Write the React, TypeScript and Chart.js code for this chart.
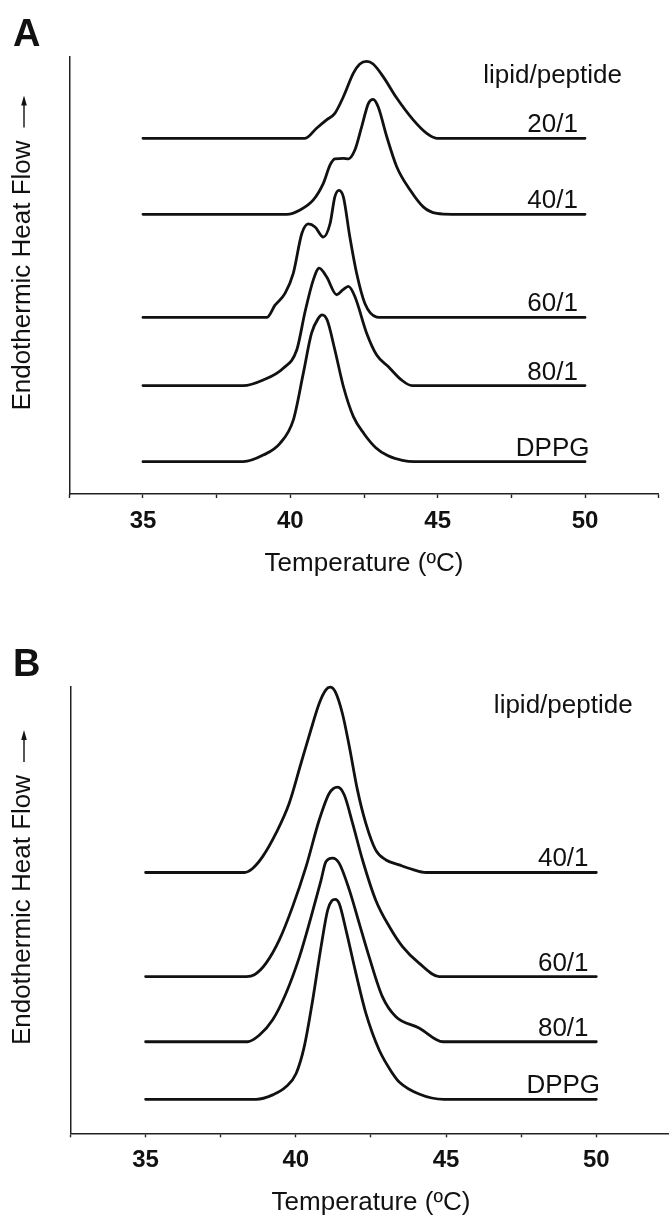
import React, { useEffect, useRef } from 'react';
import { Chart, registerables } from 'chart.js';

Chart.register(...registerables);

const FONT = '"Liberation Sans", Arial, Helvetica, sans-serif';
const INK = '#111111';

// ---------- Panel A (temperature °C / endothermic heat flow, arbitrary units) ----------
const tempA20 = [35, 40.5, 40.89, 41.23, 41.51, 41.8, 42.14, 42.36, 42.59, 42.81, 43.15, 43.61, 44.17, 44.63, 44.97, 50];
const flowA20 = [81.4, 81.4, 83.7, 85.6, 87.1, 90.9, 96.3, 98.4, 99.0, 98.4, 95.5, 90.6, 85.6, 82.5, 81.4, 81.4];

const tempA40 = [35, 39.88, 40.33, 40.78, 41.12, 41.35, 41.51, 41.8, 41.97, 42.19, 42.42, 42.65, 42.81, 42.98, 43.27, 43.61, 44.06, 44.51, 44.97, 45.5, 50];
const flowA40 = [64, 64, 65.0, 67.3, 71.1, 75.3, 76.7, 76.8, 76.7, 78.7, 84.0, 89.4, 90.3, 88.6, 81.8, 74.9, 69.6, 65.7, 64.2, 64, 64];

const tempA60 = [35, 39.2, 39.48, 39.82, 40.1, 40.39, 40.61, 40.84, 41.12, 41.35, 41.51, 41.65, 41.8, 42.02, 42.25, 42.53, 42.93, 43.15, 50];
const flowA60 = [40.4, 40.4, 43.2, 45.9, 50.5, 59.6, 61.8, 61.1, 58.8, 61.9, 68.0, 69.5, 68.0, 58.8, 50.5, 43.6, 40.5, 40.4, 40.4];

const tempA80 = [35, 38.4, 39.08, 39.76, 40.22, 40.5, 40.78, 40.98, 41.23, 41.57, 41.78, 41.97, 42.19, 42.59, 42.93, 43.33, 43.77, 44.13, 50];
const flowA80 = [24.8, 24.8, 26.1, 28.8, 33.0, 41.7, 49.0, 51.7, 49.7, 45.6, 46.7, 47.5, 45.2, 36.8, 31.8, 29.1, 26.1, 24.8, 24.8];

const tempADPPG = [35, 38.4, 39.08, 39.65, 40.1, 40.44, 40.72, 40.95, 41.08, 41.25, 41.51, 41.8, 42.14, 42.5, 42.9, 43.3, 43.8, 44.2, 50];
const flowADPPG = [7.4, 7.4, 8.9, 11.6, 16.9, 27.6, 36.8, 40.2, 41.0, 39.8, 33.0, 24.6, 17.7, 13.8, 10.6, 8.8, 7.7, 7.4, 7.4];

const seriesLabelsA = ['20/1', '40/1', '60/1', '80/1', 'DPPG'];
const baselinesA = [81.4, 64.0, 40.4, 24.8, 7.4];

// ---------- Panel B ----------
const tempB40 = [35, 38.29, 38.56, 38.9, 39.34, 39.78, 40.17, 40.5, 40.78, 41.0, 41.14, 41.31, 41.55, 41.78, 42.05, 42.33, 42.66, 43.0, 43.44, 43.88, 44.33, 50];
const flowB40 = [58.4, 58.4, 59.3, 62.0, 67.2, 73.9, 82.8, 90.3, 96.3, 99.3, 99.9, 98.9, 94.0, 86.6, 76.9, 69.4, 63.4, 61.2, 60.1, 59.1, 58.4, 58.4];

const tempB60 = [35, 38.35, 38.62, 39.01, 39.45, 39.89, 40.34, 40.78, 41.11, 41.39, 41.61, 41.89, 42.22, 42.66, 43.11, 43.55, 44.1, 44.77, 50];
const flowB60 = [35.1, 35.1, 35.5, 38.1, 43.3, 50.7, 59.7, 70.2, 76.1, 77.5, 75.8, 69.4, 61.2, 52.2, 46.3, 41.8, 38.1, 35.1, 35.1];

const tempB80 = [35, 38.4, 38.79, 39.23, 39.67, 40.12, 40.51, 40.84, 41.0, 41.22, 41.44, 41.78, 42.11, 42.44, 42.88, 43.33, 44.1, 44.9, 50];
const flowB80 = [20.5, 20.5, 22.0, 25.4, 31.3, 39.5, 48.5, 56.7, 60.8, 61.6, 60.5, 54.5, 47.0, 39.5, 30.6, 26.1, 23.6, 20.5, 20.5];

const tempBDPPG = [35, 38.68, 39.23, 39.67, 40.01, 40.28, 40.56, 40.84, 41.06, 41.2, 41.31, 41.44, 41.67, 42.0, 42.33, 42.77, 43.22, 43.44, 44.1, 44.93, 50];
const flowBDPPG = [7.6, 7.6, 8.6, 10.4, 13.4, 19.4, 29.8, 41.8, 50.0, 52.1, 52.4, 51.5, 45.5, 35.8, 26.9, 18.7, 13.4, 11.5, 8.8, 7.6, 7.6];

const seriesLabelsB = ['40/1', '60/1', '80/1', 'DPPG'];
const baselinesB = [58.4, 35.1, 20.5, 7.6];

// ---------- shared axis / text ----------
const xMin = 32.5;
const xMax = 52.5;
const xStep = 2.5;
const labeledTicks = [35, 40, 45, 50];
const headerText = 'lipid/peptide';
const headerLevel = 94;
const labelTemp = 48.9;
const xTitle = 'Temperature (ºC)';
const yTitle = 'Endothermic Heat Flow';

type PanelSpec = {
  letter: string;
  top: number;
  width: number;
  height: number;
  areaLeft: number;
  areaRight: number;
  areaTop: number;
  areaBottom: number;
  letterBaseline: number;
  temps: number[][];
  flows: number[][];
  labels: string[];
  baselines: number[];
};

const panelA: PanelSpec = {
  letter: 'A',
  top: 0,
  width: 669,
  height: 584,
  areaLeft: 69.3,
  areaRight: 658.7,
  areaTop: 57,
  areaBottom: 494,
  letterBaseline: 46,
  temps: [tempA20, tempA40, tempA60, tempA80, tempADPPG],
  flows: [flowA20, flowA40, flowA60, flowA80, flowADPPG],
  labels: seriesLabelsA,
  baselines: baselinesA,
};

const panelB: PanelSpec = {
  letter: 'B',
  top: 584,
  width: 680,
  height: 639,
  areaLeft: 70.5,
  areaRight: 672.5,
  areaTop: 102.7,
  areaBottom: 549.3,
  letterBaseline: 92,
  temps: [tempB40, tempB60, tempB80, tempBDPPG],
  flows: [flowB40, flowB60, flowB80, flowBDPPG],
  labels: seriesLabelsB,
  baselines: baselinesB,
};

function annotationPlugin(spec: PanelSpec) {
  return {
    id: 'annot' + spec.letter,
    afterDraw(chart: any) {
      const { ctx, scales, chartArea } = chart;
      const x = scales.x;
      const y = scales.y;
      ctx.save();
      ctx.fillStyle = INK;
      ctx.strokeStyle = INK;

      // panel letter
      ctx.font = `bold 38px ${FONT}`;
      ctx.textAlign = 'left';
      ctx.textBaseline = 'alphabetic';
      ctx.fillText(spec.letter, 13, spec.letterBaseline);

      // series labels
      ctx.font = `26px ${FONT}`;
      ctx.textAlign = 'center';
      const lx = x.getPixelForValue(labelTemp);
      ctx.fillText(headerText, lx, y.getPixelForValue(headerLevel));
      spec.labels.forEach((t, i) => {
        ctx.fillText(t, lx, y.getPixelForValue(spec.baselines[i]) - 6);
      });

      // arrow beside the y title
      const w = ctx.measureText(yTitle).width;
      const cy = (chartArea.top + chartArea.bottom) / 2;
      const ax = 24;
      const yStart = cy - w / 2 - 13;
      const yTip = yStart - 32;
      ctx.lineWidth = 1.4;
      ctx.beginPath();
      ctx.moveTo(ax, yStart);
      ctx.lineTo(ax, yTip + 8);
      ctx.stroke();
      ctx.beginPath();
      ctx.moveTo(ax, yTip);
      ctx.lineTo(ax - 2.8, yTip + 10);
      ctx.lineTo(ax + 2.8, yTip + 10);
      ctx.closePath();
      ctx.fill();
      ctx.restore();
    },
  };
}

function buildConfig(spec: PanelSpec): any {
  const datasets = spec.temps.map((temps, i) => ({
    label: spec.labels[i],
    data: temps.map((t, j) => ({ x: t, y: spec.flows[i][j] })),
    borderColor: INK,
    borderWidth: 2.8,
    pointRadius: 0,
    fill: false,
    cubicInterpolationMode: 'monotone',
    borderJoinStyle: 'round',
    borderCapStyle: 'round',
    clip: false,
  }));
  return {
    type: 'line',
    data: { datasets },
    options: {
      animation: false,
      responsive: false,
      maintainAspectRatio: false,
      devicePixelRatio: 1,
      layout: {
        padding: {
          left: 0,
          right: spec.width - spec.areaRight,
          top: spec.areaTop,
          bottom: 0,
        },
      },
      plugins: {
        legend: { display: false },
        tooltip: { enabled: false },
        title: { display: false },
      },
      scales: {
        x: {
          type: 'linear',
          min: xMin,
          max: xMax,
          afterFit: (s: any) => {
            s.height = spec.height - spec.areaBottom;
          },
          ticks: {
            stepSize: xStep,
            autoSkip: false,
            maxRotation: 0,
            minRotation: 0,
            padding: 8.6,
            color: INK,
            font: { family: FONT, size: 24, weight: 'bold', lineHeight: 1.2 },
            callback: (v: number) => (labeledTicks.includes(v) ? String(v) : ''),
          },
          grid: {
            display: true,
            drawOnChartArea: false,
            drawTicks: true,
            tickLength: 4,
            tickColor: '#222',
            tickWidth: 1.4,
          },
          border: { display: true, color: '#222', width: 1.5 },
          title: {
            display: true,
            text: xTitle,
            color: INK,
            font: { family: FONT, size: 26, lineHeight: 1.2 },
            padding: { top: 0, bottom: 4.4 },
          },
        },
        y: {
          type: 'linear',
          min: 0,
          max: 100,
          afterFit: (s: any) => {
            s.width = spec.areaLeft;
          },
          ticks: { display: false },
          grid: { display: false, drawTicks: false },
          border: { display: true, color: '#222', width: 1.5 },
          title: {
            display: true,
            text: yTitle,
            color: INK,
            font: { family: FONT, size: 26, lineHeight: 1.2 },
            padding: { top: 7, bottom: 0 },
          },
        },
      },
    },
    plugins: [annotationPlugin(spec)],
  };
}

function Panel({ spec }: { spec: PanelSpec }) {
  const ref = useRef<HTMLCanvasElement>(null);
  useEffect(() => {
    if (!ref.current) return;
    const chart = new Chart(ref.current, buildConfig(spec));
    return () => chart.destroy();
  }, [spec]);
  return (
    <canvas
      ref={ref}
      width={spec.width}
      height={spec.height}
      style={{
        position: 'absolute',
        left: 0,
        top: spec.top,
        width: spec.width,
        height: spec.height,
        display: 'block',
      }}
    />
  );
}

export default function App() {
  return (
    <div
      style={{
        position: 'absolute',
        left: 0,
        top: 0,
        width: 669,
        height: 1223,
        overflow: 'hidden',
        background: '#ffffff',
      }}
    >
      <Panel spec={panelA} />
      <Panel spec={panelB} />
    </div>
  );
}
